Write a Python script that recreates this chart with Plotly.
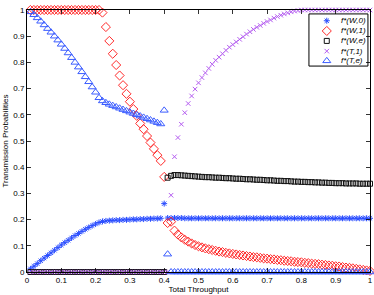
import plotly.graph_objects as go

# Throughput grid (0.01 .. 1.00)
throughput = [round(0.01 * i, 2) for i in range(1, 101)]

f_W0 = [0.012, 0.022, 0.032, 0.043, 0.053, 0.063, 0.073, 0.083, 0.093, 0.103,
        0.112, 0.121, 0.130, 0.139, 0.147, 0.155, 0.163, 0.170, 0.177, 0.183,
        0.189, 0.193, 0.195, 0.196, 0.197, 0.198, 0.198, 0.199, 0.199, 0.200,
        0.201, 0.201, 0.202, 0.202, 0.203, 0.203, 0.204, 0.204, 0.205, 0.261,
        0.206, 0.206, 0.206, 0.206, 0.206, 0.205, 0.205, 0.205, 0.205, 0.205,
        0.205, 0.205, 0.205, 0.205, 0.205, 0.205, 0.205, 0.205, 0.205, 0.205,
        0.205, 0.205, 0.205, 0.205, 0.205, 0.205, 0.205, 0.205, 0.205, 0.205,
        0.205, 0.205, 0.205, 0.205, 0.205, 0.205, 0.205, 0.205, 0.205, 0.205,
        0.205, 0.205, 0.205, 0.205, 0.205, 0.205, 0.205, 0.205, 0.205, 0.205,
        0.205, 0.205, 0.205, 0.205, 0.205, 0.205, 0.205, 0.205, 0.205, 0.205]

f_W1 = [1.0, 1.0, 1.0, 1.0, 1.0, 1.0, 1.0, 1.0, 1.0, 1.0,
        1.0, 1.0, 1.0, 1.0, 1.0, 1.0, 1.0, 1.0, 1.0, 1.0,
        1.0, 0.990, 0.935, 0.882, 0.833, 0.790, 0.750, 0.713, 0.680, 0.650,
        0.622, 0.596, 0.567, 0.545, 0.519, 0.494, 0.470, 0.446, 0.424, 0.363,
        0.187, 0.192, 0.158, 0.143, 0.132, 0.123, 0.116, 0.109, 0.103, 0.098,
        0.094, 0.090, 0.087, 0.084, 0.081, 0.078, 0.076, 0.073, 0.071, 0.069,
        0.067, 0.065, 0.063, 0.061, 0.059, 0.057, 0.056, 0.054, 0.052, 0.051,
        0.049, 0.048, 0.046, 0.045, 0.043, 0.042, 0.041, 0.039, 0.038, 0.037,
        0.035, 0.034, 0.032, 0.031, 0.030, 0.028, 0.027, 0.025, 0.024, 0.022,
        0.021, 0.019, 0.017, 0.016, 0.014, 0.012, 0.010, 0.008, 0.006, 0.004]

f_We = [0, 0, 0, 0, 0, 0, 0, 0, 0, 0,
        0, 0, 0, 0, 0, 0, 0, 0, 0, 0,
        0, 0, 0, 0, 0, 0, 0, 0, 0, 0,
        0, 0, 0, 0, 0, 0, 0, 0, 0, 0,
        0.360, 0.367, 0.370, 0.370, 0.369, 0.368, 0.367, 0.366, 0.365, 0.364,
        0.363, 0.362, 0.362, 0.361, 0.360, 0.360, 0.359, 0.358, 0.358, 0.357,
        0.356, 0.356, 0.355, 0.354, 0.354, 0.353, 0.352, 0.352, 0.351, 0.350,
        0.350, 0.349, 0.348, 0.348, 0.347, 0.347, 0.346, 0.345, 0.345, 0.344,
        0.344, 0.343, 0.343, 0.342, 0.342, 0.341, 0.341, 0.340, 0.340, 0.339,
        0.339, 0.339, 0.338, 0.338, 0.338, 0.338, 0.337, 0.337, 0.337, 0.337]

f_T1 = [0, 0, 0, 0, 0, 0, 0, 0, 0, 0,
        0, 0, 0, 0, 0, 0, 0, 0, 0, 0,
        0, 0, 0, 0, 0, 0, 0, 0, 0, 0,
        0, 0, 0, 0, 0, 0, 0, 0, 0, 0,
        0, 0.293, 0.440, 0.513, 0.564, 0.608, 0.643, 0.672, 0.698, 0.722,
        0.742, 0.760, 0.777, 0.793, 0.808, 0.820, 0.833, 0.846, 0.858, 0.868,
        0.878, 0.888, 0.898, 0.908, 0.917, 0.926, 0.934, 0.941, 0.949, 0.956,
        0.962, 0.969, 0.975, 0.980, 0.985, 0.989, 0.993, 0.996, 0.998, 1.0,
        1.0, 1.0, 1.0, 1.0, 1.0, 1.0, 1.0, 1.0, 1.0, 1.0,
        1.0, 1.0, 1.0, 1.0, 1.0, 1.0, 1.0, 1.0, 1.0, 1.0]

f_Te = [0.993, 0.982, 0.970, 0.957, 0.943, 0.929, 0.915, 0.900, 0.885, 0.869,
        0.853, 0.836, 0.818, 0.800, 0.782, 0.764, 0.745, 0.726, 0.706, 0.686,
        0.665, 0.653, 0.646, 0.640, 0.635, 0.630, 0.625, 0.620, 0.615, 0.610,
        0.605, 0.600, 0.595, 0.590, 0.585, 0.580, 0.575, 0.570, 0.565, 0.617,
        0.068, 0, 0, 0, 0, 0, 0, 0, 0, 0,
        0, 0, 0, 0, 0, 0, 0, 0, 0, 0,
        0, 0, 0, 0, 0, 0, 0, 0, 0, 0,
        0, 0, 0, 0, 0, 0, 0, 0, 0, 0,
        0, 0, 0, 0, 0, 0, 0, 0, 0, 0,
        0, 0, 0, 0, 0, 0, 0, 0, 0, 0]

series_names = ["f*(W,0)", "f*(W,1)", "f*(W,e)", "f*(T,1)", "f*(T,e)"]
series_values = [f_W0, f_W1, f_We, f_T1, f_Te]
symbols = ["asterisk-open", "diamond-open", "square-open", "x-thin-open", "triangle-up-open"]
colors = ["#2a4dff", "#ff2a2a", "#111111", "#b45cf0", "#3a5cff"]
sizes = [5, 7, 5, 4.5, 7]

x_ticks = [0, 0.1, 0.2, 0.3, 0.4, 0.5, 0.6, 0.7, 0.8, 0.9, 1]
x_ticklabels = ["0", "0.1", "0.2", "0.3", "0.4", "0.5", "0.6", "0.7", "0.8", "0.9", "1"]
y_ticks = [0, 0.1, 0.2, 0.3, 0.4, 0.5, 0.6, 0.7, 0.8, 0.9, 1]
y_ticklabels = ["0", "0.1", "0.2", "0.3", "0.4", "0.5", "0.6", "0.7", "0.8", "0.9", "1"]

FONT = "Liberation Sans, Arial, sans-serif"

fig = go.Figure()
for name, vals, sym, col, sz in zip(series_names, series_values, symbols, colors, sizes):
    fig.add_trace(go.Scatter(
        x=throughput, y=vals, mode="markers", name=name, cliponaxis=False,
        showlegend=False,
        marker=dict(symbol=sym, size=sz, color=col, line=dict(color=col, width=1)),
    ))

# ---- MATLAB-style compact legend box (drawn on an overlay axis in plot-fraction units)
leg_x0, leg_x1, leg_y0, leg_y1 = 0.822, 0.994, 0.786, 0.985
leg_key_x = 0.874
leg_text_x = 0.910
leg_rows = [0.959, 0.920, 0.882, 0.843, 0.806]

fig.add_trace(go.Scatter(
    x=[leg_x0, leg_x1, leg_x1, leg_x0, leg_x0], y=[leg_y0, leg_y0, leg_y1, leg_y1, leg_y0],
    xaxis="x2", yaxis="y2", mode="lines", fill="toself", fillcolor="white",
    line=dict(color="black", width=1), showlegend=False, hoverinfo="skip",
))
for row_y, name, sym, col, sz in zip(leg_rows, series_names, symbols, colors, sizes):
    fig.add_trace(go.Scatter(
        x=[leg_key_x], y=[row_y], xaxis="x2", yaxis="y2", mode="markers",
        marker=dict(symbol=sym, size=sz, color=col, line=dict(color=col, width=1)),
        showlegend=False, hoverinfo="skip", cliponaxis=False,
    ))
    fig.add_annotation(x=leg_text_x, y=row_y, xref="x2", yref="y2", text=f"<i>{name}</i>",
                       showarrow=False, xanchor="left", yanchor="middle",
                       font=dict(family=FONT, size=8, color="black"))

axis_common = dict(
    showline=True, linecolor="black", linewidth=1, mirror="ticks",
    ticks="inside", ticklen=4, tickcolor="black", tickwidth=0.8,
    showgrid=False, zeroline=False, automargin=False,
    tickfont=dict(family=FONT, size=8, color="black"),
)

fig.update_layout(
    width=374, height=295,
    margin=dict(l=27, r=4, t=10, b=23),
    paper_bgcolor="white", plot_bgcolor="white",
    font=dict(family=FONT, size=8, color="black"),
    xaxis=dict(range=[0, 1], tickvals=x_ticks, ticktext=x_ticklabels,
               title=dict(text="Total Throughput", standoff=0,
                          font=dict(family=FONT, size=8)),
               **axis_common),
    yaxis=dict(range=[0, 1], tickvals=y_ticks, ticktext=y_ticklabels,
               title=dict(text="Transmission Probabilities", standoff=3,
                          font=dict(family=FONT, size=8)),
               **axis_common),
    xaxis2=dict(overlaying="x", range=[0, 1], visible=False, fixedrange=True),
    yaxis2=dict(overlaying="y", range=[0, 1], visible=False, fixedrange=True),
    showlegend=False,
    hovermode=False,
)

fig.write_html("out.html", config={"displayModeBar": False, "staticPlot": True},
               post_script="document.body.style.margin='0';document.body.style.overflow='hidden';")
